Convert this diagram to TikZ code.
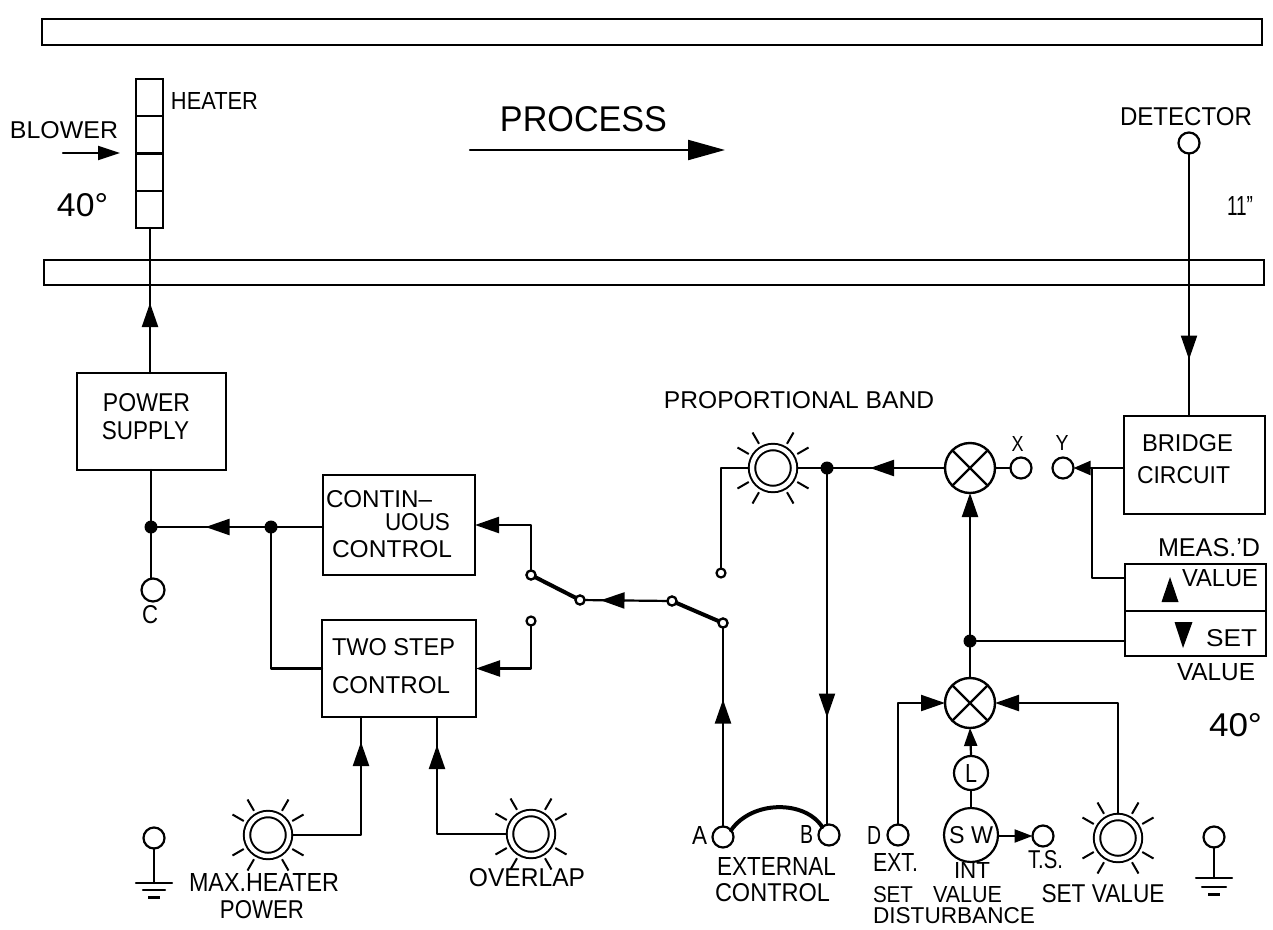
\documentclass[tikz,border=0pt]{standalone}
\usepackage{fontspec}
\usepackage{graphicx}
\setmainfont{Liberation Sans}
\usetikzlibrary{arrows.meta,decorations.markings,calc}
\newcommand{\fw}[3][17pt]{\resizebox{#2pt}{#1}{#3}}
\tikzset{
  x=1pt,y=-1pt,
  wire/.style={line width=2.2pt,line cap=round,line join=round},
  bigtip/.tip={Triangle[length=24pt,width=16pt]},
  smalltip/.tip={Triangle[length=18pt,width=13pt]},
  endtip/.style={wire,-{bigtip}},
  midtip/.style={wire,postaction={decorate},decoration={markings,mark=at position #1 with {\arrow{bigtip}}}},
  box/.style={draw,line width=2.3pt,inner sep=0pt,outer sep=0pt,minimum width=#1},
  term/.style={circle,draw,line width=2.2pt,fill=white,inner sep=0pt,minimum size=21pt,outer sep=0pt},
  contact/.style={circle,draw,line width=2.2pt,fill=white,inner sep=0pt,minimum size=9pt,outer sep=0pt},
  dot/.style={circle,fill=black,inner sep=0pt,minimum size=13pt,outer sep=0pt},
  mult/.style={circle,draw,line width=2.4pt,fill=white,inner sep=0pt,minimum size=50pt,outer sep=0pt},
  dialn/.style={circle,draw,line width=2pt,double,double distance=4.4pt,inner sep=0pt,minimum size=42pt,outer sep=4pt},
  ray/.style={line width=2pt},
  lbl/.style={inner sep=0pt},
  arm/.style={line width=4pt,line cap=round},
}
\newcommand{\dialrays}[1]{\foreach \a in {30,60,120,150,210,240,300,330}{\draw[ray] ($(#1)+(\a:28)$) -- ($(#1)+(\a:41)$);}}
\begin{document}
\begin{tikzpicture}
\useasboundingbox (0,0) rectangle (1273,929);
% process bars
\node[box=1220,minimum height=26pt] (bartop) at (652,32) {};
\node[box=1220,minimum height=25pt] (barlow) at (654,272.5) {};
% heater
\node[box=27,minimum height=37.25pt] (h1) at (149.5,97.6) {};
\node[box=27,minimum height=37.25pt] (h2) at (149.5,134.9) {};
\node[box=27,minimum height=37.25pt] (h3) at (149.5,172.1) {};
\node[box=27,minimum height=37.25pt] (h4) at (149.5,209.4) {};
\node[lbl] (theater) at (214.5,101) {\fw{87}{HEATER}};
\node[lbl] (tblower) at (64,130) {\fw{108}{BLOWER}};
\coordinate (blowstart) at (63,153);
\coordinate (blowend) at (120,153);
\draw[wire,-{Triangle[length=22pt,width=14pt]}] (blowstart) -- (blowend);
\node[lbl] (t40a) at (82.5,205) {\fw[23pt]{51}{40°}};
\node[lbl] (tprocess) at (583.5,119) {\fw[25pt]{167}{PROCESS}};
\coordinate (procstart) at (470,150);
\coordinate (procend) at (725,150);
\draw[wire,-{Triangle[length=37pt,width=20pt]}] (procstart) -- (procend);
\node[lbl] (tdet) at (1186,117) {\fw[18pt]{132}{DETECTOR}};
\node[term] (det) at (1189,143) {};
\node[lbl] (t11) at (1240,206) {\fw[19pt]{26}{11"}};
% boxes
\node[box=149,minimum height=97pt] (power) at (151.5,421.5) {};
\node[lbl] (tpower) at (146.5,403) {\fw[18pt]{87}{POWER}};
\node[lbl] (tsupply) at (145.5,431) {\fw[18pt]{87}{SUPPLY}};
\node[box=152,minimum height=100pt] (cont) at (399,525) {};
\node[lbl] (tc1) at (379,499) {\fw{106}{CONTIN–}};
\node[lbl] (tc2) at (417.5,522) {\fw{65}{UOUS}};
\node[lbl] (tc3) at (392,549) {\fw{120}{CONTROL}};
\node[box=154,minimum height=97pt] (two) at (399,668.5) {};
\node[lbl] (tt1) at (393.5,647) {\fw{123}{TWO STEP}};
\node[lbl] (tt2) at (391,685) {\fw{118}{CONTROL}};
\node[box=141,minimum height=98pt] (bridge) at (1194.5,465) {};
\node[lbl] (tb1) at (1187.5,443) {\fw{91}{BRIDGE}};
\node[lbl] (tb2) at (1183.5,475) {\fw{93}{CIRCUIT}};
\node[box=141,minimum height=47pt] (valtop) at (1195.5,587.5) {};
\node[box=141,minimum height=45pt] (valbot) at (1195.5,633.5) {};
\node[lbl] (tmeas) at (1209,548) {\fw[18pt]{102}{MEAS.'D}};
\node[lbl] (tv1) at (1220,578) {\fw{76}{VALUE}};
\node[lbl] (tset) at (1231.5,638) {\fw{51}{SET}};
\node[lbl] (tv2) at (1216,672) {\fw{78}{VALUE}};
\fill (1170,577) -- (1178.5,602) -- (1161.5,602) -- cycle;
\fill (1183,648) -- (1174.5,622) -- (1192.5,622) -- cycle;
% power side
\coordinate (hl) at (150,228);
\draw[midtip=70pt] (hl |- power.north) -- (hl);
\node[dot] (j1) at (151,527) {};
\node[dot] (j2) at (271,527) {};
\node[term,minimum width=21pt,minimum height=23pt] (c) at (153,590) {};
\node[lbl] (tcc) at (150,615) {\fw[18pt]{16}{C}};
\draw[wire] (j1 |- power.south) -- (j1);
\draw[wire] (j1) -- (j1 |- c.north);
\draw[wire] (cont.west |- j2) -- (j2);
\draw[midtip=59pt] (j2) -- (j1);
\draw[wire] (j2) |- (two.west);
% switch
\node[contact] (s1) at (531,575) {};
\node[contact] (s2) at (531,621) {};
\node[contact] (s3) at (580,600) {};
\node[contact] (s4) at (672,601) {};
\node[contact] (s5) at (723,623) {};
\node[contact] (s6) at (721,573) {};
\draw[arm] (s1) -- (s3);
\draw[arm] (s4) -- (s5);
\node[contact] (s1b) at (s1) {};
\node[contact] (s3b) at (s3) {};
\node[contact] (s4b) at (s4) {};
\node[contact] (s5b) at (s5) {};
\draw[endtip] (s1.north) |- (cont.east);
\draw[endtip] (s2.south) |- (two.east);
\draw[midtip=67pt] (s4) -- (s3);
% dials at bottom left
\node[dialn] (dmax) at (268,835) {};
\dialrays{dmax}
\node[dialn] (dover) at (531,834) {};
\dialrays{dover}
\coordinate (inmax) at (361,717);
\coordinate (inover) at (437,717);
\draw[midtip=161pt] (dmax.east) -| (inmax);
\draw[midtip=158pt] (dover.west) -| (inover);
\node[lbl] (tmax) at (264,882) {\fw[18pt]{150}{MAX.HEATER}};
\node[lbl] (tpw) at (262,910) {\fw[18pt]{84}{POWER}};
\node[lbl] (tover) at (527,878) {\fw[18pt]{116}{OVERLAP}};
% ground left
\node[term] (g1) at (154,838) {};
\coordinate (g1b) at (154,883);
\draw[wire] (g1.south) -- (g1b);
\draw[wire] ($(g1b)+(-18,0)$) -- ($(g1b)+(18,0)$);
\draw[wire] ($(g1b)+(-11,7)$) -- ($(g1b)+(11,7)$);
\draw[line width=3pt] ($(g1b)+(-6,14)$) -- ($(g1b)+(6,14)$);
% proportional band
\node[lbl] (tprop) at (799,400) {\fw{270}{PROPORTIONAL BAND}};
\node[dialn] (dprop) at (773,468) {};
\dialrays{dprop}
\node[mult] (m1) at (970,468) {};
\draw[wire] (m1.45) -- (m1.225);
\draw[wire] (m1.135) -- (m1.315);
\node[dot] (j3) at (827,468) {};
\node[term] (xt) at (1021,468) {};
\node[term] (yt) at (1063,468) {};
\node[lbl] (tx) at (1017.5,444) {\fw[15pt]{12}{X}};
\node[lbl] (ty) at (1062,443) {\fw[15pt]{13}{Y}};
\draw[wire] (m1.east) -- (xt.west);
\draw[midtip=75pt] (m1.west) -- (j3);
\draw[wire] (dprop.east) -- (j3);
\draw[wire] (dprop.west) -| (s6.north);
% bridge
\draw[midtip=206pt] (det.south) -- (det.south |- bridge.north);
\draw[wire,-{Triangle[length=17pt,width=14pt]}] (bridge.west |- yt) -- (yt.east);
\coordinate (yj) at (1092,468);
\coordinate (yk) at (1125,578);
\draw[wire] (yk) -| (yj);
% lower mixer
\node[mult] (m2) at (970,703) {};
\draw[wire] (m2.45) -- (m2.225);
\draw[wire] (m2.135) -- (m2.315);
\node[dot] (j4) at (970,641) {};
\draw[wire] (valbot.west |- j4) -- (j4);
\draw[endtip] (j4) -- (m1.south);
\draw[wire] (m2.north) -- (j4);
\node[circle,draw,line width=2.2pt,inner sep=0pt,minimum size=34pt] (lnode) at (971,773) {\fw[18pt]{12}{L}};
\node[circle,draw,line width=2.2pt,inner sep=0pt,minimum size=54pt] (sw) at (971,835) {\fw{44}{S W}};
\draw[wire] (sw.north) -- (lnode.south);
\draw[wire,-{smalltip}] (lnode.north) -- (m2.south);
\node[term] (ts) at (1043,836) {};
\draw[wire,-{Triangle[length=18pt,width=13pt]}] (sw.east |- ts) -- (ts.west);
\node[term] (dt) at (898,835) {};
\draw[endtip] (dt.north) |- (m2.west);
\node[dialn] (dset) at (1118,838) {};
\dialrays{dset}
\draw[endtip] (dset.north) |- (m2.east);
% external
\node[term] (at) at (723,837) {};
\node[term] (bt) at (829,835) {};
\draw[midtip=127pt] (at.north) -- (s5.south);
\draw[midtip=243pt] (j3) -- (j3 |- bt.north);
\draw[line width=4pt,line cap=round] (at.40) .. controls (752,800) and (805,800) .. (bt.130);
\node[lbl] (ta) at (699.5,835) {\fw[18pt]{15}{A}};
\node[lbl] (tbb) at (806.5,834) {\fw[18pt]{13}{B}};
\node[lbl] (td) at (874,835) {\fw[18pt]{14}{D}};
\node[lbl] (text1) at (776.5,866) {\fw[18pt]{119}{EXTERNAL}};
\node[lbl] (text2) at (772.5,893) {\fw[18pt]{115}{CONTROL}};
\node[lbl] (text3) at (895.5,862) {\fw[18pt]{45}{EXT.}};
\node[lbl] (tint) at (972,870.5) {\fw[16pt]{36}{INT}};
\node[lbl] (tset2) at (893,894.5) {\fw[16pt]{40}{SET}};
\node[lbl] (tval2) at (967.5,894.5) {\fw[16pt]{69}{VALUE}};
\node[lbl] (tdist) at (954,916) {\fw[16pt]{162}{DISTURBANCE}};
\node[lbl] (tts) at (1045.5,860) {\fw[18pt]{35}{T.S.}};
\node[lbl] (tsv) at (1103,894) {\fw[18pt]{123}{SET VALUE}};
\node[lbl] (t40b) at (1235.5,725) {\fw[23pt]{53}{40°}};
% ground right
\node[term] (g2) at (1214,837) {};
\coordinate (g2b) at (1214,878);
\draw[wire] (g2.south) -- (g2b);
\draw[wire] ($(g2b)+(-18,0)$) -- ($(g2b)+(18,0)$);
\draw[wire] ($(g2b)+(-12,9)$) -- ($(g2b)+(12,9)$);
\draw[line width=3pt] ($(g2b)+(-6,16)$) -- ($(g2b)+(6,16)$);
\end{tikzpicture}
\end{document}
